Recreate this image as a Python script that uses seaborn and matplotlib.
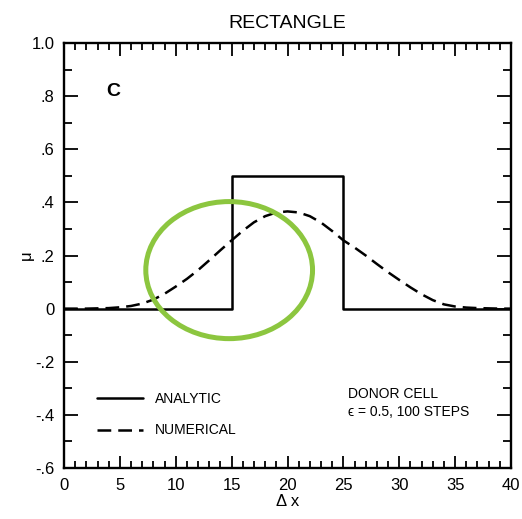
import numpy as np
import pandas as pd
import matplotlib
matplotlib.use("Agg")
import matplotlib.pyplot as plt
from matplotlib.patches import Ellipse
from matplotlib.lines import Line2D
from matplotlib.ticker import MultipleLocator
import seaborn as sns

# ---- data ----
analytic_x = [0, 15, 15, 25, 25, 40]
analytic_y = [0.0, 0.0, 0.5, 0.5, 0.0, 0.0]

numerical_x = list(range(0, 41))
numerical_y = [0.000, 0.000, 0.000, 0.001, 0.002, 0.005, 0.010, 0.019, 0.034, 0.056,
               0.083, 0.112, 0.145, 0.182, 0.220, 0.257, 0.293, 0.325, 0.348, 0.362,
               0.366, 0.362, 0.348, 0.324, 0.292, 0.257, 0.230, 0.200, 0.168, 0.137,
               0.108, 0.080, 0.054, 0.032, 0.016, 0.008, 0.004, 0.002, 0.001, 0.000,
               0.000]

ytick_vals = [1.0, 0.8, 0.6, 0.4, 0.2, 0.0, -0.2, -0.4, -0.6]
ytick_labels = ["1.0", ".8", ".6", ".4", ".2", "0", "-.2", "-.4", "-.6"]
xtick_vals = [0, 5, 10, 15, 20, 25, 30, 35, 40]

sns.set_style("ticks")
plt.rcParams['font.family'] = ['Liberation Sans', 'DejaVu Sans']
plt.rcParams['text.color'] = 'black'
plt.rcParams['axes.labelcolor'] = 'black'
plt.rcParams['xtick.color'] = 'black'
plt.rcParams['ytick.color'] = 'black'

fig = plt.figure(figsize=(5.22, 5.19), dpi=100)
ax = fig.add_axes([64/522, 1-468/519, (511-64)/522, (468-43)/519])

df_a = pd.DataFrame({"x": analytic_x, "y": analytic_y})
df_n = pd.DataFrame({"x": numerical_x, "y": numerical_y})

sns.lineplot(data=df_a, x="x", y="y", ax=ax, sort=False, estimator=None,
             color="black", linewidth=1.8)
sns.lineplot(data=df_n, x="x", y="y", ax=ax, estimator=None,
             color="black", linewidth=1.8)
ax.lines[-1].set_dashes([5.5, 2.8])

ax.set_xlim(0, 40)
ax.set_ylim(-0.6, 1.0)
ax.set_xticks(xtick_vals)
ax.set_xticklabels([str(v) for v in xtick_vals])
ax.set_yticks(ytick_vals)
ax.set_yticklabels(ytick_labels)
ax.xaxis.set_minor_locator(MultipleLocator(1))
ax.yaxis.set_minor_locator(MultipleLocator(0.1))
ax.tick_params(which="both", direction="in", top=True, right=True,
               labelsize=12, width=1.3, color="black", labelcolor="black")
ax.tick_params(axis="y", which="major", length=10, pad=7)
ax.tick_params(axis="y", which="minor", length=6)
ax.tick_params(axis="x", which="major", length=9, pad=7)
ax.tick_params(axis="x", which="minor", length=5)
for s in ax.spines.values():
    s.set_linewidth(1.7)
    s.set_color("black")

ax.set_xlabel("Δ x", fontsize=12, labelpad=1)
ax.set_ylabel("μ", fontsize=12, labelpad=-2)
ax.set_title("RECTANGLE", fontsize=14, pad=11)

ax.text(0.095, 0.885, "C", transform=ax.transAxes, fontsize=14,
        fontweight="bold", va="center", ha="left")

handles = [Line2D([], [], color="black", lw=1.8),
           Line2D([], [], color="black", lw=1.8, dashes=[5.5, 2.8])]
leg = ax.legend(handles, ["ANALYTIC", "NUMERICAL"], loc="upper left",
                bbox_to_anchor=((97-64)/447, (468-392)/425), frameon=False,
                fontsize=10, handlelength=3.3, handletextpad=0.9,
                labelspacing=1.25, borderpad=0, borderaxespad=0)
for t in leg.get_texts():
    t.set_color("black")

ax.text((348-64)/447, (468-403)/425, "DONOR CELL\nϵ = 0.5, 100 STEPS",
        transform=ax.transAxes, fontsize=10, va="center", ha="left",
        linespacing=1.3)

ell = Ellipse((14.78, 0.145), 14.92, 0.516, fill=False,
              edgecolor="#8cc63f", linewidth=3.6, zorder=5)
ax.add_patch(ell)

fig.savefig("out.png", dpi=100)
